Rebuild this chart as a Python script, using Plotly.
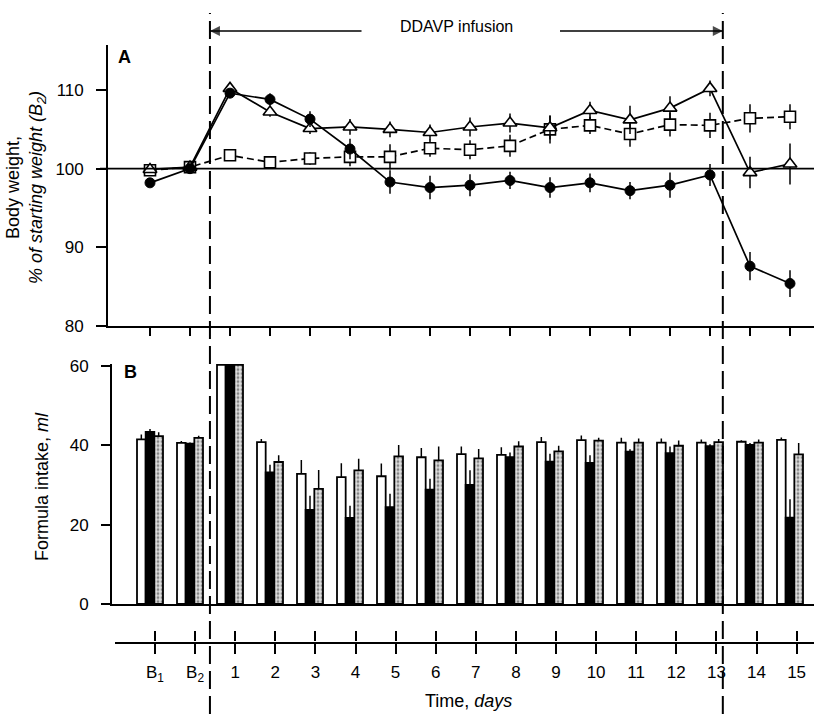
import plotly.graph_objects as go

W, H = 814, 714

# ---------------- data ----------------
day_labels = ["B<sub>1</sub>", "B<sub>2</sub>"] + [str(d) for d in range(1, 16)]
day_pos = [-1, 0] + list(range(1, 16))

# Panel A: body weight, % of starting weight (B2)
bw_circle = [98.2, 100.0, 109.6, 108.8, 106.3, 102.5, 98.3, 97.6, 97.9, 98.5, 97.6, 98.2, 97.2, 97.9, 99.2, 87.6, 85.4]
bw_circle_err = [0.3, 0.3, 0.5, 0.8, 1.0, 1.3, 1.5, 1.5, 1.4, 1.1, 1.3, 1.2, 1.1, 1.6, 1.4, 1.8, 1.7]
bw_triangle = [99.9, 100.2, 110.2, 107.2, 105.1, 105.3, 105.0, 104.6, 105.3, 105.8, 105.2, 107.4, 106.2, 107.7, 110.2, 99.5, 100.6]
bw_triangle_err = [0.3, 0.3, 0.5, 0.6, 0.7, 1.0, 1.0, 1.0, 1.2, 1.2, 1.5, 1.1, 1.8, 1.5, 1.0, 2.0, 2.6]
bw_square = [99.8, 100.2, 101.7, 100.8, 101.3, 101.5, 101.5, 102.6, 102.4, 102.9, 105.0, 105.5, 104.4, 105.6, 105.5, 106.4, 106.6]
bw_square_err = [0.3, 0.3, 0.6, 0.5, 0.8, 1.2, 1.6, 1.1, 1.2, 1.4, 1.8, 1.1, 1.6, 1.5, 1.6, 1.8, 1.6]

# Panel B: formula intake, ml
fi_white = [41.5, 40.6, 60.3, 40.8, 32.8, 32.0, 32.2, 37.0, 37.8, 37.6, 40.8, 41.3, 40.7, 40.7, 40.7, 40.9, 41.4]
fi_white_err = [1.2, 0.5, 0, 0.8, 3.5, 3.5, 3.2, 2.3, 1.9, 1.9, 1.3, 1.2, 1.2, 1.0, 0.8, 0.4, 0.6]
fi_black = [43.4, 40.4, 60.3, 33.2, 23.7, 21.7, 24.4, 28.8, 30.0, 37.0, 35.9, 35.6, 38.4, 38.0, 39.8, 40.1, 21.8]
fi_black_err = [0.7, 0.3, 0, 1.9, 3.6, 3.1, 3.4, 2.8, 3.7, 1.2, 2.0, 1.9, 0.6, 1.7, 0.5, 0.5, 4.6]
fi_stipple = [42.3, 41.9, 60.3, 35.8, 29.0, 33.7, 37.2, 36.2, 36.7, 39.7, 38.5, 41.2, 40.7, 39.9, 40.8, 40.7, 37.7]
fi_stipple_err = [1.0, 0.5, 0, 1.7, 4.8, 2.9, 2.9, 3.5, 2.4, 1.3, 1.4, 0.7, 1.0, 1.3, 0.8, 0.8, 2.9]

infusion_start = 0.37   # between B2 and day 1
infusion_end = 13.16    # between day 13 and day 14
arrow_left_tail = 4.15  # where the left infusion arrow ends (days)
arrow_right_tail = 9.1  # where the right infusion arrow starts (days)

# ---------------- helpers ----------------
def px(x):
    return x / W

def py(y):
    return 1 - y / H

def xrange_for(left_px, right_px, ref_px, per_unit):
    # ref_px is the pixel of value -1 (B1)
    return [-1 + (left_px - ref_px) / per_unit, -1 + (right_px - ref_px) / per_unit]

FONT = "Liberation Sans, Arial, sans-serif"
FS = 17
TFS = 18
TICKFONT = dict(family=FONT, size=FS, color="black")
LW = 1.7

fig = go.Figure()

# ---------------- Panel A ----------------
err_style = dict(type="data", symmetric=True, width=0, thickness=1.5, color="black")

fig.add_trace(go.Scatter(
    x=day_pos, y=bw_square, mode="lines+markers", xaxis="x", yaxis="y",
    line=dict(color="black", width=LW, dash="7px,4px"),
    marker=dict(symbol="square", size=11, color="white", line=dict(color="black", width=1.6)),
    error_y=dict(array=bw_square_err, **err_style), showlegend=False))
fig.add_trace(go.Scatter(
    x=day_pos, y=bw_triangle, mode="lines+markers", xaxis="x", yaxis="y",
    line=dict(color="black", width=LW),
    marker=dict(symbol="triangle-up", size=12, color="white", line=dict(color="black", width=1.6)),
    error_y=dict(array=bw_triangle_err, **err_style), showlegend=False))
fig.add_trace(go.Scatter(
    x=day_pos, y=bw_circle, mode="lines+markers", xaxis="x", yaxis="y",
    line=dict(color="black", width=LW),
    marker=dict(symbol="circle", size=10, color="black", line=dict(color="black", width=1)),
    error_y=dict(array=bw_circle_err, **err_style), showlegend=False))

# ---------------- Panel B ----------------
def bar_err(arr):
    return dict(type="data", symmetric=False, array=arr, arrayminus=[0] * len(arr),
                width=0, thickness=1.5, color="black")

fig.add_trace(go.Bar(
    x=day_pos, y=fi_white, xaxis="x2", yaxis="y2", offsetgroup="w",
    marker=dict(color="white", line=dict(color="black", width=1.8)),
    error_y=bar_err(fi_white_err), showlegend=False))
fig.add_trace(go.Bar(
    x=day_pos, y=fi_black, xaxis="x2", yaxis="y2", offsetgroup="b",
    marker=dict(color="black", line=dict(color="black", width=1.8)),
    error_y=bar_err(fi_black_err), showlegend=False))
fig.add_trace(go.Bar(
    x=day_pos, y=fi_stipple, xaxis="x2", yaxis="y2", offsetgroup="s",
    marker=dict(color="#c8c8c8", line=dict(color="black", width=1.8),
                pattern=dict(shape=".", fgcolor="#2a2a2a", bgcolor="#e0e0e0", size=4, solidity=0.4)),
    error_y=bar_err(fi_stipple_err), showlegend=False))

# ---------------- time axis holders (invisible) ----------------
fig.add_trace(go.Scatter(x=day_pos, y=[0.5] * len(day_pos), xaxis="x3", yaxis="y3",
                         mode="markers", marker=dict(opacity=0, size=1),
                         hoverinfo="skip", showlegend=False))
fig.add_trace(go.Scatter(x=day_pos, y=[0.5] * len(day_pos), xaxis="x4", yaxis="y5",
                         mode="markers", marker=dict(opacity=0, size=1),
                         hoverinfo="skip", showlegend=False))

# ---------------- infusion arrows (top strip) ----------------
fig.add_trace(go.Scatter(
    x=[arrow_left_tail, infusion_start], y=[0.5, 0.5], xaxis="x3", yaxis="y4",
    mode="lines+markers", line=dict(color="black", width=1.5),
    marker=dict(symbol=["circle", "arrow-left"], size=[0, 10], color="black",
                line=dict(width=0)),
    hoverinfo="skip", showlegend=False))
fig.add_trace(go.Scatter(
    x=[arrow_right_tail, infusion_end], y=[0.5, 0.5], xaxis="x3", yaxis="y4",
    mode="lines+markers", line=dict(color="black", width=1.5),
    marker=dict(symbol=["circle", "arrow-right"], size=[0, 10], color="black",
                line=dict(width=0)),
    hoverinfo="skip", showlegend=False))

# ---------------- layout ----------------
A_top, A_bot = 45, 326
A_ppu = (326 - 90) / 30.0
B_bot = 604
B_ppu = (604 - 366) / 60.0
B_max = 60.6

axis_common = dict(showgrid=False, zeroline=False, showline=True, linecolor="black",
                   linewidth=LW, ticks="outside", tickcolor="black", tickwidth=LW,
                   tickfont=TICKFONT, automargin=False)
no_font = {k: v for k, v in axis_common.items() if k != "tickfont"}

time_range = xrange_for(115, W, 155, 40.1)

fig.update_layout(
    width=W, height=H, margin=dict(l=0, r=0, t=0, b=0, pad=0, autoexpand=False),
    paper_bgcolor="white", plot_bgcolor="rgba(0,0,0,0)",
    barmode="group", bargap=0.35, bargroupgap=0.0,
    font=dict(family=FONT, color="black"),
    xaxis=dict(domain=[px(108), 1], range=xrange_for(108, W, 150, 40.0), anchor="y",
               tickvals=day_pos, showticklabels=False, ticklen=8, **no_font),
    yaxis=dict(domain=[py(A_bot), py(A_top)], range=[80, 80 + (A_bot - A_top) / A_ppu], anchor="x",
               tickvals=[80, 90, 100, 110], ticklen=10, ticklabelstandoff=9, **axis_common),
    xaxis2=dict(domain=[px(112), 1], range=xrange_for(112, W, 150, 40.0), anchor="y2",
                showgrid=False, zeroline=False, showline=True, linecolor="black", linewidth=LW,
                ticks="", showticklabels=False, automargin=False),
    yaxis2=dict(domain=[py(B_bot), py(B_bot - B_max * B_ppu)], range=[0, B_max], anchor="x2",
                tickvals=[0, 20, 40, 60], ticklen=9, ticklabelstandoff=9, **axis_common),
    # time axis: line, downward ticks and labels
    xaxis3=dict(domain=[px(115), 1], range=time_range, anchor="y3", side="bottom",
                tickvals=day_pos, ticktext=day_labels, ticklen=10,
                ticklabelstandoff=4, **{**axis_common, "linewidth": 2}),
    yaxis3=dict(domain=[py(642), py(625)], range=[0, 1], anchor="x3", visible=False, automargin=False),
    # time axis: upward half of the crossing ticks
    xaxis4=dict(domain=[px(115), 1], range=time_range, anchor="y5", side="top",
                tickvals=day_pos, showticklabels=False, ticklen=10,
                **{**no_font, "showline": False}),
    yaxis5=dict(domain=[py(660), py(642)], range=[0, 1], anchor="x4", visible=False, automargin=False),
    # strip for the infusion arrows
    yaxis4=dict(domain=[py(40), py(22)], range=[0, 1], anchor="x3", visible=False, automargin=False),
)

shapes = [
    dict(type="line", xref="paper", yref="y", x0=px(100), x1=1, y0=100, y1=100,
         line=dict(color="black", width=LW)),
    dict(type="line", xref="x3", yref="paper", x0=infusion_start, x1=infusion_start, y0=0, y1=py(13),
         line=dict(color="black", width=2, dash="18px,7px")),
    dict(type="line", xref="x3", yref="paper", x0=infusion_end, x1=infusion_end, y0=0, y1=py(13),
         line=dict(color="black", width=2, dash="18px,7px")),
]
fig.update_layout(shapes=shapes)

ann = [
    dict(text="<b>A</b>", xref="paper", yref="paper", x=px(116), y=py(57), showarrow=False,
         xanchor="left", yanchor="middle", font=dict(size=18)),
    dict(text="<b>B</b>", xref="paper", yref="paper", x=px(122), y=py(372), showarrow=False,
         xanchor="left", yanchor="middle", font=dict(size=18)),
    dict(text="DDAVP infusion", xref="paper", yref="paper", x=px(456), y=py(27), showarrow=False,
         xanchor="center", yanchor="middle", font=dict(size=16)),
    dict(text="Body weight,<br><i>% of starting weight (B<sub>2</sub>)</i>", xref="paper", yref="paper",
         x=px(26), y=py(188), showarrow=False, textangle=-90, xanchor="center", yanchor="middle",
         font=dict(size=TFS)),
    dict(text="Formula intake, <i>ml</i>", xref="paper", yref="paper",
         x=px(42), y=py(487), showarrow=False, textangle=-90, xanchor="center", yanchor="middle",
         font=dict(size=TFS)),
    dict(text="Time, <i>days</i>", xref="paper", yref="paper",
         x=px(468), y=py(701), showarrow=False, xanchor="center", yanchor="middle",
         font=dict(size=TFS)),
]
fig.update_layout(annotations=ann)

fig.write_html("out.html")
